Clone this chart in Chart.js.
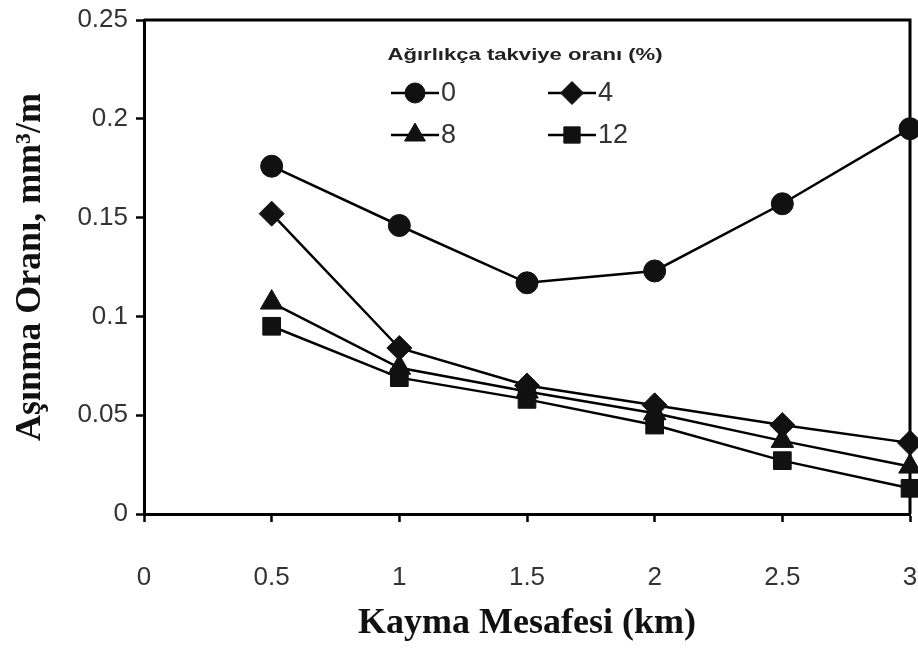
<!DOCTYPE html>
<html lang="tr">
<head>
<meta charset="UTF-8">
<title>Aşınma Oranı - Kayma Mesafesi</title>
<style>
  html, body { margin: 0; padding: 0; background: #fff; }
  canvas { display: block; }
</style>
<script src="https://cdn.jsdelivr.net/npm/chart.js"></script>
</head>
<body>
<canvas id="wearChart" width="918" height="653"></canvas>
<script>
// sliding distance (km)
const distances = [0.5, 1, 1.5, 2, 2.5, 3];

// wear rate (mm3/m) for each reinforcement ratio (wt %)
const rate0  = [0.176, 0.146, 0.117, 0.123, 0.157, 0.195];
const rate4  = [0.152, 0.084, 0.065, 0.055, 0.045, 0.036];
const rate8  = [0.107, 0.074, 0.062, 0.051, 0.037, 0.024];
const rate12 = [0.095, 0.069, 0.058, 0.045, 0.027, 0.013];

const seriesLabels = ['0', '4', '8', '12'];
const xTickValues = [0, 0.5, 1, 1.5, 2, 2.5, 3];
const yTickValues = [0, 0.05, 0.1, 0.15, 0.2, 0.25];
const yTickLabels = ['0', '0.05', '0.1', '0.15', '0.2', '0.25'];

const legendTitle = 'Ağırlıkça takviye oranı (%)';

// marker look per series
const markerStyles = ['circle', 'rectRot', 'triangle', 'rect'];
const markerRadii = [11, 12.5, 13, 12.5];

const allRates = [rate0, rate4, rate8, rate12];

const datasets = allRates.map((rates, i) => ({
    label: seriesLabels[i],
    data: distances.map((d, j) => ({ x: d, y: rates[j] })),
    borderColor: '#000',
    backgroundColor: '#000',
    borderWidth: 2.5,
    pointStyle: markerStyles[i],
    pointRadius: markerRadii[i],
    pointBorderWidth: 1,
    pointBackgroundColor: '#111',
    pointBorderColor: '#111',
    tension: 0,
    clip: false
}));

// top and right edges of the plot frame
const frameBox = {
    id: 'frameBox',
    beforeDatasetsDraw(chart) {
        const { ctx, chartArea: a } = chart;
        ctx.save();
        ctx.strokeStyle = '#000';
        ctx.lineWidth = 3;
        ctx.beginPath();
        ctx.moveTo(a.left, a.top);
        ctx.lineTo(a.right, a.top);
        ctx.lineTo(a.right, a.bottom);
        ctx.stroke();
        ctx.restore();
    }
};

// legend drawn inside the plot, two columns
const insideLegend = {
    id: 'insideLegend',
    afterDraw(chart) {
        const ctx = chart.ctx;
        ctx.save();

        // title, slightly widened like the original figure
        ctx.font = 'bold 17px "Liberation Sans", Arial, sans-serif';
        ctx.fillStyle = '#222';
        ctx.textAlign = 'center';
        ctx.textBaseline = 'middle';
        ctx.translate(525, 55);
        ctx.scale(1.3, 1);
        ctx.fillText(legendTitle, 0, 0);
        ctx.setTransform(1, 0, 0, 1, 0, 0);

        const cols = [391, 548];
        const rows = [93, 135];
        const lineLen = 48;

        chart.data.datasets.forEach((ds, i) => {
            const x0 = cols[i % 2];
            const y = rows[Math.floor(i / 2)];
            ctx.strokeStyle = '#000';
            ctx.lineWidth = 2.5;
            ctx.beginPath();
            ctx.moveTo(x0, y);
            ctx.lineTo(x0 + lineLen, y);
            ctx.stroke();

            ctx.fillStyle = '#111';
            ctx.strokeStyle = '#111';
            ctx.lineWidth = 1;
            Chart.helpers.drawPoint(ctx, {
                pointStyle: ds.pointStyle,
                radius: ds.pointRadius - 1,
                rotation: 0,
                borderWidth: 1
            }, x0 + lineLen / 2, y);

            ctx.fillStyle = '#333';
            ctx.font = '27px "Liberation Sans", Arial, sans-serif';
            ctx.textAlign = 'left';
            ctx.textBaseline = 'middle';
            ctx.fillText(ds.label, x0 + lineLen + 2, y + 1);
        });
        ctx.restore();
    }
};

const tickFont = { family: '"Liberation Sans", Arial, sans-serif', size: 26 };
const titleFont = { family: '"Liberation Serif", "Times New Roman", serif', size: 36, weight: 'bold' };

new Chart(document.getElementById('wearChart').getContext('2d'), {
    type: 'line',
    data: { datasets: datasets },
    options: {
        responsive: false,
        animation: false,
        devicePixelRatio: 1,
        layout: { autoPadding: false, padding: { top: 20, right: 8, left: 0, bottom: 0 } },
        plugins: {
            legend: { display: false },
            tooltip: { enabled: false }
        },
        scales: {
            x: {
                type: 'linear',
                min: 0,
                max: 3,
                afterBuildTicks: s => { s.ticks = xTickValues.map(v => ({ value: v })); },
                afterFit: s => { s.height = 139; s.paddingLeft = 0; s.paddingRight = 0; },
                ticks: {
                    font: tickFont,
                    color: '#333',
                    padding: 40,
                    maxRotation: 0,
                    callback: v => String(v)
                },
                grid: {
                    drawOnChartArea: false,
                    drawTicks: true,
                    tickLength: 8,
                    tickWidth: 2.5,
                    tickColor: '#000'
                },
                border: { display: true, color: '#000', width: 3 },
                title: {
                    display: true,
                    text: 'Kayma Mesafesi (km)',
                    font: titleFont,
                    color: '#111',
                    padding: { top: 0, bottom: 8 }
                }
            },
            y: {
                type: 'linear',
                min: 0,
                max: 0.25,
                afterBuildTicks: s => { s.ticks = yTickValues.map(v => ({ value: v })); },
                afterFit: s => { s.width = 144; s.paddingTop = 0; s.paddingBottom = 0; },
                ticks: {
                    font: tickFont,
                    color: '#333',
                    padding: 8,
                    callback: (v, i) => yTickLabels[i]
                },
                grid: {
                    drawOnChartArea: false,
                    drawTicks: true,
                    tickLength: 8,
                    tickWidth: 2.5,
                    tickColor: '#000'
                },
                border: { display: true, color: '#000', width: 3 },
                title: {
                    display: true,
                    text: 'Aşınma Oranı, mm³/m',
                    font: titleFont,
                    color: '#111',
                    padding: { top: 9, bottom: 0 }
                }
            }
        }
    },
    plugins: [frameBox, insideLegend]
});
</script>
</body>
</html>
